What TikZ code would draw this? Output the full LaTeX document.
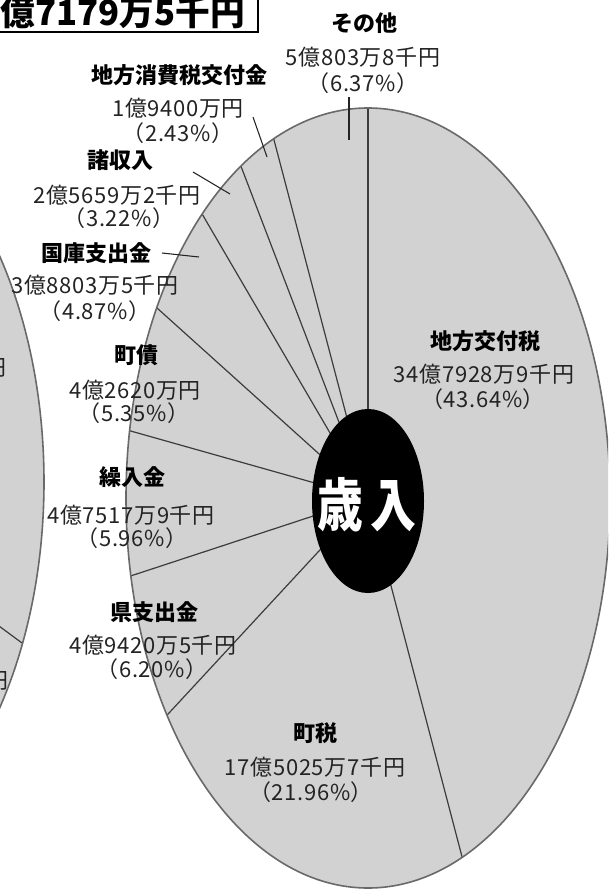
\documentclass[tikz,border=0pt]{standalone}
\usepackage{fontspec}
\setmainfont{Noto Sans CJK JP}
\newfontfamily\amtfont[LetterSpace=3]{Noto Sans CJK JP}
\definecolor{piefill}{RGB}{210,210,210}
\definecolor{pieedge}{RGB}{105,105,105}
\definecolor{spokecol}{RGB}{60,60,60}
\definecolor{txt}{RGB}{35,35,35}
\begin{document}
\begin{tikzpicture}[x=0.75pt,y=-0.75pt,
  lbl/.style={inner sep=0pt,text=black,font=\fontsize{16.5}{18}\selectfont\bfseries},
  amt/.style={inner sep=0pt,text=txt,font=\fontsize{16.5}{18}\selectfont\amtfont},
  lead/.style={draw=txt,line width=0.8pt},
  spokeline/.style={draw=spokecol,line width=0.9pt},
  edgeline/.style={draw=pieedge,line width=1.2pt}]
\useasboundingbox (0,0) rectangle (608,891);
\clip (0,0) rectangle (608,891);
% ---- left (partial) pie
\coordinate (L) at (-196,482);
\coordinate (Le) at (22,643);
\fill[piefill] (L) ellipse [x radius=240, y radius=390];
\draw[spokeline] (L) -- (Le);
\draw[edgeline] (L) ellipse [x radius=240, y radius=390];
\node[amt,anchor=east] (lc1) at (7,368) {円};
\node[amt,anchor=east] (lc2) at (9,681) {円};
% ---- main pie
\coordinate (C) at (368,498);
\fill[piefill] (C) ellipse [x radius=242, y radius=390];
\coordinate (s0) at ({368+242*cos(90)},{498-390*sin(90)});
\coordinate (s1) at ({368+242*cos(-67.104)},{498-390*sin(-67.104)});
\coordinate (s2) at ({368+242*cos(-146.16)},{498-390*sin(-146.16)});
\coordinate (s3) at ({368+242*cos(-168.48)},{498-390*sin(-168.48)});
\coordinate (s4) at ({368+242*cos(-189.936)},{498-390*sin(-189.936)});
\coordinate (s5) at ({368+242*cos(-209.196)},{498-390*sin(-209.196)});
\coordinate (s6) at ({368+242*cos(-226.728)},{498-390*sin(-226.728)});
\coordinate (s7) at ({368+242*cos(-238.32)},{498-390*sin(-238.32)});
\coordinate (s8) at ({368+242*cos(-247.068)},{498-390*sin(-247.068)});
\foreach \s in {s0,s1,s2,s3,s4,s5,s6,s7,s8} \draw[spokeline] (C) -- (\s);
\draw[edgeline] (C) ellipse [x radius=242, y radius=390];
% ---- centre
\fill[black] (368,501) ellipse [x radius=56, y radius=92];
\node[inner sep=0pt,text=white,font=\fontsize{43}{45}\selectfont\bfseries] (center) at (367,505) {\scalebox{0.8}[1]{歳\,入}};
% ---- title box
\draw[black,line width=1.5pt] (-30,-30) rectangle (258,32);
\node[inner sep=0pt,anchor=base east,font=\fontsize{26}{28}\selectfont\bfseries] (title) at (245,26) {億7179万5千円};
% ---- labels
\node[lbl] (n1) at (364,23) {その他};
\node[amt] (a1) at (363,57) {5億803万8千円};
\node[amt] (p1) at (363,83) {（6.37\%）};

\node[lbl] (n2) at (179,75) {地方消費税交付金};
\node[amt] (a2) at (178,108) {1億9400万円};
\node[amt] (p2) at (178,133) {（2.43\%）};

\node[lbl] (n3) at (120,160) {諸収入};
\node[amt] (a3) at (117,195) {2億5659万2千円};
\node[amt] (p3) at (119,218) {（3.22\%）};

\node[lbl] (n4) at (96,253) {国庫支出金};
\node[amt] (a4) at (95,285) {3億8803万5千円};
\node[amt] (p4) at (95,311) {（4.87\%）};

\node[lbl] (n5) at (136,355) {町債};
\node[amt] (a5) at (135,390) {4億2620万円};
\node[amt] (p5) at (134,413) {（5.35\%）};

\node[lbl] (n6) at (132,477) {繰入金};
\node[amt] (a6) at (131,515) {4億7517万9千円};
\node[amt] (p6) at (132,538) {（5.96\%）};

\node[lbl] (n7) at (154,612) {県支出金};
\node[amt] (a7) at (153,645) {4億9420万5千円};
\node[amt] (p7) at (152,669) {（6.20\%）};

\node[lbl] (n8) at (315,733) {町税};
\node[amt] (a8) at (315,767) {17億5025万7千円};
\node[amt] (p8) at (311,792) {（21.96\%）};

\node[lbl] (n9) at (485,341) {地方交付税};
\node[amt] (a9) at (484,374) {34億7928万9千円};
\node[amt] (p9) at (483,399) {（43.64\%）};
% ---- leader lines
\coordinate (l1a) at (349,97);  \coordinate (l1b) at (349,140);
\coordinate (l2a) at (253,117); \coordinate (l2b) at (267,157);
\coordinate (l3a) at (193,172); \coordinate (l3b) at (230,194);
\coordinate (l4a) at (162,253); \coordinate (l4b) at (199,257);
\draw[lead] (l1a) -- (l1b);
\draw[lead] (l2a) -- (l2b);
\draw[lead] (l3a) -- (l3b);
\draw[lead] (l4a) -- (l4b);
\end{tikzpicture}
\end{document}
